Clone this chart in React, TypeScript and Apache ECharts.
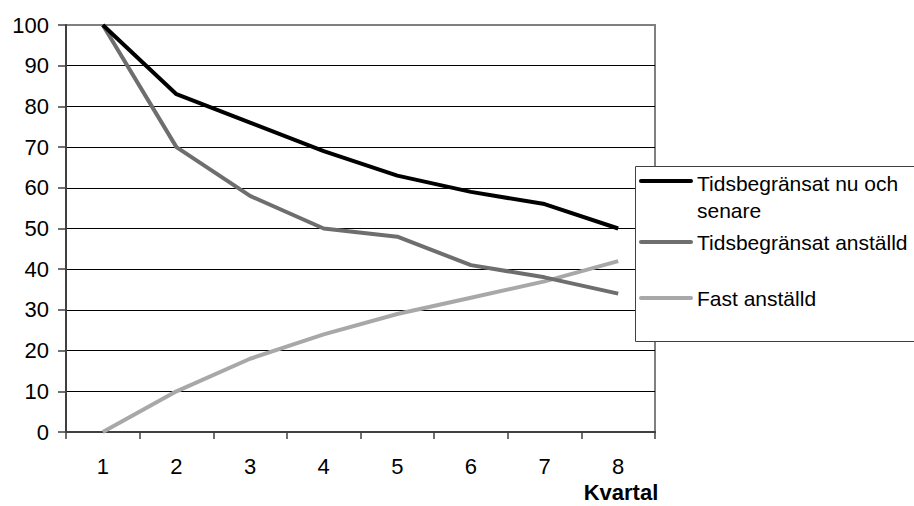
import React, { useEffect, useRef } from "react";
import * as echarts from "echarts";

const categories = ["1", "2", "3", "4", "5", "6", "7", "8"];
const seriesNames = ["Tidsbegränsat nu och senare", "Tidsbegränsat anställd", "Fast anställd"];
const legendLabels = ["Tidsbegränsat nu och\nsenare", "Tidsbegränsat anställd", "Fast anställd"];
const nuOchSenare = [100, 83, 76, 69, 63, 59, 56, 50];
const tidsbegransat = [100, 70, 58, 50, 48, 41, 38, 34];
const fastAnstalld = [0, 10, 18, 24, 29, 33, 37, 42];
const xAxisName = "Kvartal";

const FONT = "'Liberation Sans', Arial, sans-serif";

export default function App() {
  const ref = useRef<HTMLDivElement>(null);
  useEffect(() => {
    if (!ref.current) return;
    const chart = echarts.init(ref.current, undefined, { renderer: "svg" });
    const colors = ["#000000", "#6e6e6e", "#a8a8a8"];
    const values = [nuOchSenare, tidsbegransat, fastAnstalld];

    // Legend layout (drawn with graphic elements to match the box exactly)
    const legendIconY = [181, 242, 298];
    const legendTextY = [196.5, 242, 298];
    const legendGraphics: any[] = [
      {
        type: "rect",
        shape: { x: 635.5, y: 166.5, width: 300, height: 175 },
        style: { fill: "#ffffff", stroke: "#404040", lineWidth: 1 },
        z: 100,
      },
    ];
    legendLabels.forEach((label, i) => {
      legendGraphics.push({
        type: "line",
        shape: { x1: 641, y1: legendIconY[i], x2: 691, y2: legendIconY[i] },
        style: { stroke: colors[i], lineWidth: 4, lineCap: "round" },
        z: 101,
      });
      legendGraphics.push({
        type: "text",
        x: 697,
        y: legendTextY[i],
        style: {
          text: label,
          font: `21px ${FONT}`,
          fill: "#000",
          lineHeight: 27,
          verticalAlign: "middle",
          align: "left",
        },
        z: 101,
      });
    });

    chart.setOption({
      animation: false,
      backgroundColor: "#ffffff",
      textStyle: { fontFamily: FONT },
      grid: {
        left: 66,
        top: 25,
        right: 259,
        bottom: 74,
        show: true,
        borderColor: "#808080",
        borderWidth: 2,
        backgroundColor: "transparent",
      },
      xAxis: {
        type: "category",
        data: categories,
        boundaryGap: true,
        axisLine: { show: true, lineStyle: { color: "#404040", width: 2 } },
        axisTick: { show: true, length: 7, inside: false, lineStyle: { color: "#404040", width: 1.5 } },
        axisLabel: { color: "#000", fontSize: 22, fontFamily: FONT, margin: 23 },
        splitLine: { show: false },
      },
      yAxis: {
        type: "value",
        min: 0,
        max: 100,
        interval: 10,
        axisLine: { show: true, lineStyle: { color: "#404040", width: 2 } },
        axisTick: { show: true, length: 8, inside: false, lineStyle: { color: "#404040", width: 1.5 } },
        axisLabel: { color: "#000", fontSize: 22, fontFamily: FONT, margin: 17 },
        splitLine: {
          show: true,
          lineStyle: {
            color: ["#000", "#000", "#000", "#000", "#000", "#000", "#000", "#000", "#000", "#000", "#808080"],
            width: 1,
          },
        },
      },
      graphic: [
        ...legendGraphics,
        {
          type: "text",
          x: 621,
          y: 492,
          style: {
            text: xAxisName,
            font: `bold 22px ${FONT}`,
            fill: "#000",
            align: "center",
            verticalAlign: "middle",
          },
        },
      ],
      series: seriesNames.map((name, i) => ({
        name,
        type: "line",
        data: values[i],
        symbol: "none",
        showSymbol: false,
        lineStyle: { color: colors[i], width: 4 },
        itemStyle: { color: colors[i] },
        z: 5 - i,
      })),
    });
    return () => chart.dispose();
  }, []);
  return (
    <div
      ref={ref}
      style={{ position: "absolute", left: 0, top: 0, width: 914, height: 506 }}
    />
  );
}
